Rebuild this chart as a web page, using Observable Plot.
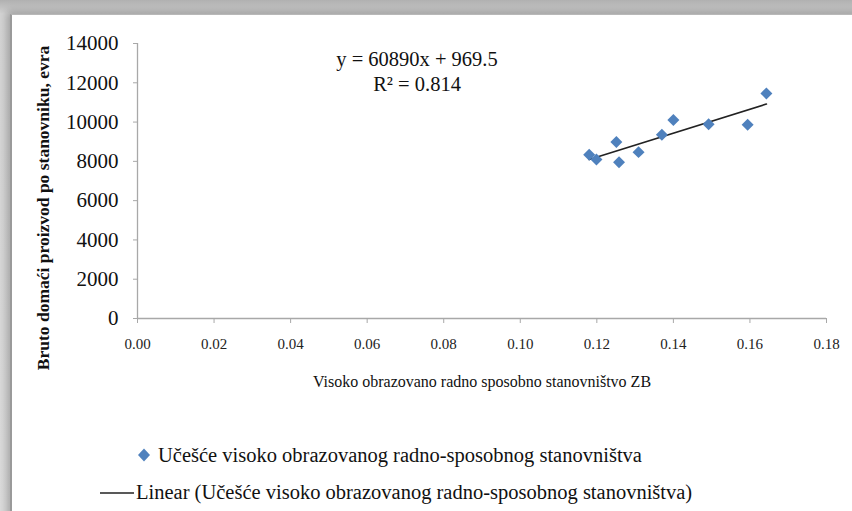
<!DOCTYPE html>
<html>
<head>
<meta charset="utf-8">
<script src="https://cdn.jsdelivr.net/npm/d3@7"></script>
<script src="https://cdn.jsdelivr.net/npm/@observablehq/plot@0.6"></script>
<style>
  html, body { margin: 0; padding: 0; background: #fff; }
  #page { position: relative; width: 852px; height: 511px; overflow: hidden;
    background: linear-gradient(#b0b0b0, #d4d4d4 14px, #dcdcdc); font-family: "Liberation Serif", "Times New Roman", Tinos, "DejaVu Serif", serif; }
  #panel { position: absolute; left: 10px; top: 14px; width: 860px; height: 520px; background: #fff;
    border-left: 2px solid #9a9a9a; border-top: 1px solid #b8b8b8; box-shadow: -3px -3px 8px rgba(0,0,0,0.25); }
  #chart { position: absolute; left: 0; top: 0; }
  .leg { position: absolute; font-size: 20.5px; color: #111; white-space: nowrap; }
</style>
</head>
<body>
<div id="page">
  <div id="panel"></div>
  <div id="chart"></div>
  <div class="leg" id="leg1" style="left:136px; top:444px;"></div>
  <div class="leg" id="leg2" style="left:100px; top:481px;"></div>
</div>
<script>
// ---- data ----
const shareHighEdu = [0.118, 0.1199, 0.1251, 0.1258, 0.1309, 0.137, 0.140, 0.1492, 0.1594, 0.1643];
const gdpPerCapita = [8340, 8100, 8980, 7950, 8470, 9350, 10110, 9890, 9860, 11460];
const xTicks = [0, 0.02, 0.04, 0.06, 0.08, 0.10, 0.12, 0.14, 0.16, 0.18];
const yTicks = [0, 2000, 4000, 6000, 8000, 10000, 12000, 14000];
const slope = 60890;
const intercept = 969.5;
const rSquared = 0.814;
const yTitle = "Bruto domaći proizvod po stanovniku, evra";
const xTitle = "Visoko obrazovano radno sposobno stanovništvo ZB";
const seriesName = "Učešće visoko obrazovanog radno-sposobnog stanovništva";
const trendName = "Linear (Učešće visoko obrazovanog radno-sposobnog stanovništva)";

const data = shareHighEdu.map((x, i) => ({x, y: gdpPerCapita[i]}));
const eqText = `y = ${slope}x + ${intercept}\nR² = ${rSquared}`;

const font = `"Liberation Serif", "Times New Roman", Tinos, "DejaVu Serif", serif`;
const chart = Plot.plot({
  width: 852,
  height: 410,
  marginLeft: 137,
  marginRight: 26,
  marginTop: 43,
  marginBottom: 92,
  style: {background: "transparent", fontFamily: font, color: "#111"},
  x: {domain: [0, 0.18], ticks: xTicks, tickFormat: d3.format(".2f"), label: null},
  y: {domain: [0, 14000], ticks: yTicks, tickFormat: d => String(d), label: null},
  marks: [
    Plot.ruleY([0], {stroke: "#a8a8a8", strokeWidth: 1.3}),
    Plot.ruleX([0], {stroke: "#a8a8a8", strokeWidth: 1.3}),
    Plot.axisY({ticks: yTicks, tickSize: 4, tickPadding: 15, stroke: "#a8a8a8", fontSize: 21, fill: "#111", tickFormat: d => String(d), label: null}),
    Plot.axisX({ticks: xTicks, tickSize: 5, tickPadding: 15, stroke: "#a8a8a8", fontSize: 15, fill: "#222", tickFormat: d3.format(".2f"), label: null}),
    Plot.linearRegressionY(data, {x: "x", y: "y", ci: 0, stroke: "#222", strokeWidth: 1.6}),
    Plot.dot(data, {x: "x", y: "y", symbol: "diamond2", r: 5.4, fill: "#4f81bd", stroke: "none"}),
    Plot.text([eqText], {frameAnchor: "top", dx: -65, dy: 4, lineAnchor: "top", lineHeight: 1.25, fontSize: 20.5, fill: "#111", text: d => d}),
    Plot.text([yTitle], {frameAnchor: "left", dx: -94, dy: 27, rotate: -90, textAnchor: "middle", fontSize: 17.5, fontWeight: "bold", fill: "#111", text: d => d}),
    Plot.text([xTitle], {frameAnchor: "bottom", dy: 68, fontSize: 16, fill: "#111", text: d => d})
  ]
});
document.getElementById("chart").appendChild(chart);

document.getElementById("leg1").innerHTML =
  `<svg width="16" height="16" style="vertical-align:-1px;margin-right:6px"><path d="M8,1.5L14,8L8,14.5L2,8Z" fill="#4f81bd"/></svg>${seriesName}`;
document.getElementById("leg2").innerHTML =
  `<svg width="34" height="10" style="vertical-align:2px;margin-right:2px"><line x1="0" y1="6" x2="34" y2="6" stroke="#222" stroke-width="1.3"/></svg>${trendName}`;
</script>
</body>
</html>
